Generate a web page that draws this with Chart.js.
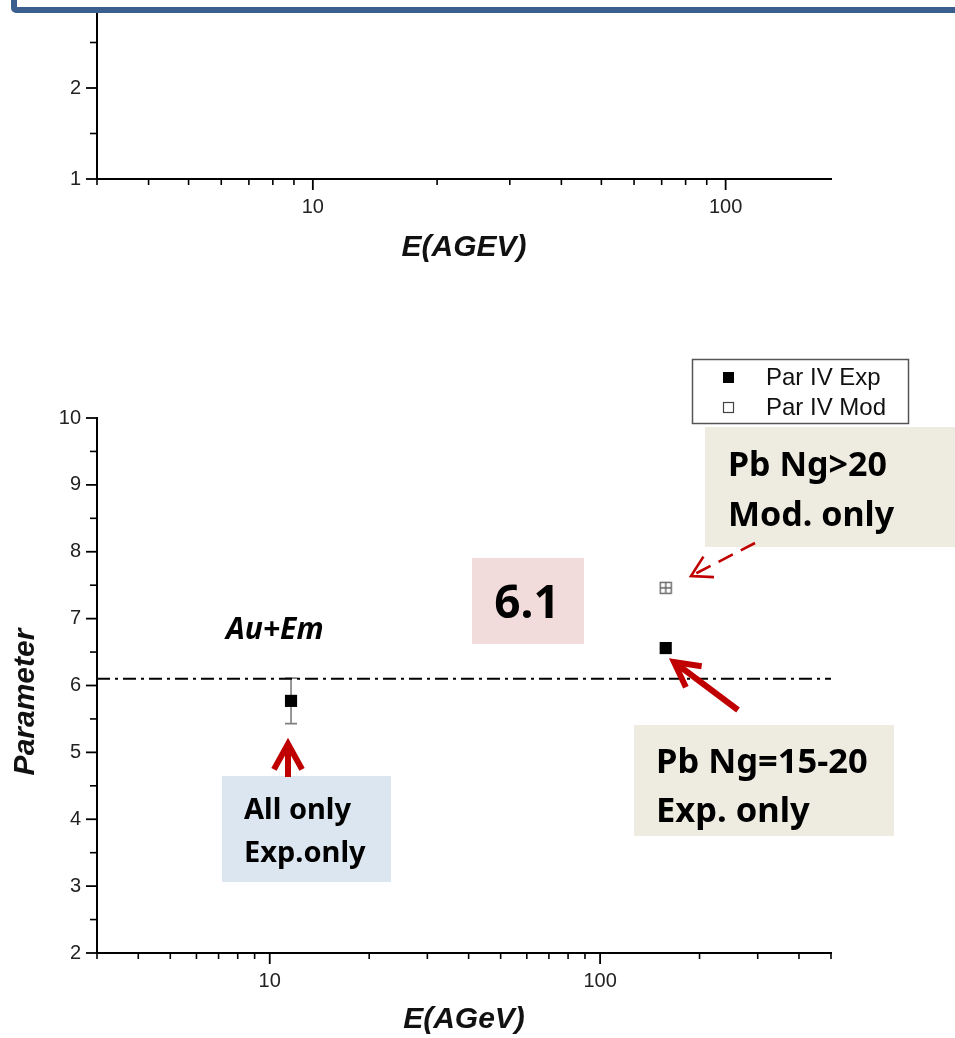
<!DOCTYPE html>
<html>
<head>
<meta charset="utf-8">
<script src="https://cdn.jsdelivr.net/npm/chart.js@4/dist/chart.umd.min.js"></script>
<style>
  html, body { margin: 0; padding: 0; width: 955px; height: 1038px; overflow: hidden; background: #fff; }
  #frame { position: absolute; left: 11px; top: -60px; width: 1100px; height: 73px; box-sizing: border-box;
           border: 6px solid #3a5f8e; border-radius: 5px; background: #fff; z-index: 5; }
  #topWrap { position: absolute; left: 0; top: -100px; width: 955px; height: 376px; }
  #mainWrap { position: absolute; left: 0; top: 280px; width: 955px; height: 758px; }
  canvas { display: block; }
</style>
</head>
<body>
<div id="topWrap"><canvas id="topChart" width="955" height="376"></canvas></div>
<div id="mainWrap"><canvas id="mainChart" width="955" height="758"></canvas></div>
<div id="frame"></div>
<script>
// ---- data ----
const energyExp = [11.6, 158];          // E (A GeV)
const parExp = [5.77, 6.56];            // Par IV, experiment
const parExpErr = [0.34, null];         // error on Par IV Exp
const energyMod = [158];
const parMod = [7.46];                  // Par IV, model
const refLevel = 6.1;                   // dash-dot reference level
const refLevelSpan = [3, 500];

// ---- tick values ----
const xMajorTicks = [10, 100];
const xMinorTicksMain = [3, 4, 5, 6, 7, 8, 9, 20, 30, 40, 50, 60, 70, 80, 90, 200, 300, 400, 500];
const xMinorTicksTop = [3, 4, 5, 6, 7, 8, 9, 20, 30, 40, 50, 60, 70, 80, 90];
const yMajorTicksMain = [2, 3, 4, 5, 6, 7, 8, 9, 10];
const yMinorTicksMain = [2.5, 3.5, 4.5, 5.5, 6.5, 7.5, 8.5, 9.5];
const yMajorTicksTop = [1, 2, 3];
const yMinorTicksTop = [1.5, 2.5];

const AXIS_FONT = 'Liberation Sans';
const NOTE_FONT = 'Noto Sans';
const RED = '#c00000';
const MAIN_TOP = 280;   // page offset of the main canvas

// open square with a cross, used for the model marker
const modMarker = document.createElement('canvas');
modMarker.width = 14; modMarker.height = 14;
(() => {
  const m = modMarker.getContext('2d');
  m.fillStyle = '#fff';
  m.fillRect(1, 1, 12, 12);
  m.strokeStyle = '#666';
  m.lineWidth = 1.4;
  m.strokeRect(1.5, 1.5, 11, 11);
  m.beginPath();
  m.moveTo(1.5, 7); m.lineTo(12.5, 7);
  m.moveTo(7, 1.5); m.lineTo(7, 12.5);
  m.stroke();
})();

// Origin-style outward tick marks (major + minor)
const tickMarks = {
  id: 'tickMarks',
  afterDraw(chart, args, o) {
    const { ctx, chartArea: a, scales: { x, y } } = chart;
    ctx.save();
    ctx.strokeStyle = '#000';
    const xt = (vals, len, w) => vals.forEach(v => {
      const p = x.getPixelForValue(v);
      ctx.lineWidth = w;
      ctx.beginPath(); ctx.moveTo(p, a.bottom); ctx.lineTo(p, a.bottom + len); ctx.stroke();
    });
    const yt = (vals, len, w) => vals.forEach(v => {
      const p = y.getPixelForValue(v);
      ctx.lineWidth = w;
      ctx.beginPath(); ctx.moveTo(a.left, p); ctx.lineTo(a.left - len, p); ctx.stroke();
    });
    xt(o.xMinor, 6, 1.6);
    xt(o.xMajor, 11, 1.8);
    yt(o.yMinor, 7, 1.6);
    yt(o.yMajor, 11, 1.8);
    ctx.restore();
  }
};

// vertical error bars for the experimental points
const errorBars = {
  id: 'errorBars',
  beforeDatasetsDraw(chart) {
    const { ctx, scales: { x, y } } = chart;
    ctx.save();
    ctx.strokeStyle = '#7f7f7f';
    ctx.lineWidth = 1.6;
    energyExp.forEach((e, i) => {
      const err = parExpErr[i];
      if (err == null) return;
      const px = x.getPixelForValue(e);
      const top = y.getPixelForValue(parExp[i] + err);
      const bot = y.getPixelForValue(parExp[i] - err);
      ctx.beginPath();
      ctx.moveTo(px, top); ctx.lineTo(px, bot);
      ctx.moveTo(px - 6, top); ctx.lineTo(px + 6, top);
      ctx.moveTo(px - 6, bot); ctx.lineTo(px + 6, bot);
      ctx.stroke();
    });
    ctx.restore();
  }
};

function arrow(ctx, x1, y1, x2, y2, opt) {
  ctx.save();
  ctx.strokeStyle = opt.color;
  ctx.lineWidth = opt.width;
  ctx.lineCap = 'butt';
  ctx.lineJoin = 'miter';
  ctx.setLineDash(opt.dash || []);
  ctx.beginPath(); ctx.moveTo(x1, y1); ctx.lineTo(x2, y2); ctx.stroke();
  ctx.setLineDash([]);
  const back = Math.atan2(y1 - y2, x1 - x2);
  const s = opt.spread * Math.PI / 180;
  ctx.beginPath();
  ctx.moveTo(x2 + opt.head * Math.cos(back - s), y2 + opt.head * Math.sin(back - s));
  ctx.lineTo(x2, y2);
  ctx.lineTo(x2 + opt.head * Math.cos(back + s), y2 + opt.head * Math.sin(back + s));
  ctx.stroke();
  ctx.restore();
}

// legend box, y-axis title, notes and arrows of the main panel
const mainDecor = {
  id: 'mainDecor',
  afterDraw(chart) {
    const ctx = chart.ctx;
    const Y = v => v - MAIN_TOP;
    ctx.save();

    // y-axis title
    ctx.save();
    ctx.translate(25.5, Y(702));
    ctx.rotate(-Math.PI / 2);
    ctx.font = `italic bold 30px "${AXIS_FONT}"`;
    ctx.fillStyle = '#111';
    ctx.textAlign = 'center';
    ctx.textBaseline = 'middle';
    ctx.fillText('Parameter', 0, 0);
    ctx.restore();

    // legend
    ctx.strokeStyle = '#555';
    ctx.lineWidth = 1.5;
    ctx.strokeRect(692.5, Y(359.5), 216, 64);
    ctx.fillStyle = '#000';
    ctx.fillRect(723, Y(372), 11, 11);
    ctx.fillStyle = '#fff';
    ctx.strokeStyle = '#444';
    ctx.lineWidth = 1.2;
    ctx.fillRect(723, Y(402), 11, 11);
    ctx.strokeRect(723.5, Y(402.5), 10, 10);
    ctx.fillStyle = '#111';
    ctx.font = `24px "${AXIS_FONT}"`;
    ctx.textAlign = 'left';
    ctx.textBaseline = 'alphabetic';
    ctx.fillText('Par IV Exp', 766, Y(385));
    ctx.fillText('Par IV Mod', 766, Y(415));

    // note boxes
    ctx.fillStyle = '#eeece1';
    ctx.fillRect(705, Y(427), 260, 120);
    ctx.fillRect(634, Y(725), 260, 111);
    ctx.fillStyle = '#f2dcdb';
    ctx.fillRect(472, Y(558), 112, 86);
    ctx.fillStyle = '#dce6f1';
    ctx.fillRect(222, Y(776), 169, 106);

    ctx.fillStyle = '#000';
    ctx.font = `bold 34px "${NOTE_FONT}"`;
    ctx.fillText('Pb Ng>20', 728, Y(476));
    ctx.fillText('Mod. only', 728, Y(526));
    ctx.font = `bold 34.5px "${NOTE_FONT}"`;
    ctx.fillText('Pb Ng=15-20', 656, Y(773));
    ctx.fillText('Exp. only', 656, Y(822));
    ctx.font = `bold 29px "${NOTE_FONT}"`;
    ctx.fillText('All only', 244, Y(819));
    ctx.fillText('Exp.only', 244, Y(862));
    ctx.font = `italic bold 30px "${NOTE_FONT}"`;
    ctx.fillText('Au+Em', 226, Y(639));
    ctx.font = `bold 46px "${NOTE_FONT}"`;
    ctx.textAlign = 'center';
    ctx.fillText('6.1', 527, Y(618));

    // arrows
    arrow(ctx, 288, Y(777), 288, Y(744), { color: RED, width: 6, head: 29, spread: 29 });
    arrow(ctx, 738, Y(710), 674, Y(662), { color: RED, width: 6, head: 28, spread: 28 });
    arrow(ctx, 755, Y(543), 691, Y(576), { color: RED, width: 2.6, head: 23, spread: 30, dash: [16, 9] });
    ctx.restore();
  }
};

const tickFont = { family: AXIS_FONT, size: 20 };
const titleFont = { family: AXIS_FONT, size: 30, weight: 'bold', style: 'italic', lineHeight: 1.2 };

function axisX(min, max, title, titlePad, labelPad, height) {
  return {
    type: 'logarithmic', position: 'bottom', min, max,
    grid: { display: false, drawTicks: false },
    border: { display: true, color: '#000', width: 2 },
    afterBuildTicks: s => { s.ticks = xMajorTicks.map(v => ({ value: v })); },
    afterFit: s => { s.height = height; },
    ticks: { font: tickFont, color: '#222', padding: labelPad, autoSkip: false, maxRotation: 0,
             callback: v => String(v) },
    title: { display: true, text: title, font: titleFont, color: '#111', padding: { top: 0, bottom: titlePad } }
  };
}
function axisY(min, max, majors) {
  return {
    type: 'linear', position: 'left', min, max,
    grid: { display: false, drawTicks: false },
    border: { display: true, color: '#000', width: 2 },
    afterBuildTicks: s => { s.ticks = majors.map(v => ({ value: v })); },
    afterFit: s => { s.width = 97; },
    ticks: { font: tickFont, color: '#222', padding: 16, callback: v => String(v) }
  };
}

const common = {
  responsive: false,
  animation: false,
  events: [],
  plugins: { legend: { display: false }, tooltip: { enabled: false } }
};

// upper panel (only its lower part is in view)
new Chart(document.getElementById('topChart'), {
  type: 'scatter',
  data: { datasets: [] },
  options: Object.assign({}, common, {
    layout: { padding: { top: 97, right: 124, left: 0, bottom: 0 } },
    scales: {
      x: axisX(3, 180, 'E(AGEV)', 10, 16, 97),
      y: axisY(1, 3, yMajorTicksTop)
    },
    plugins: Object.assign({}, common.plugins, {
      tickMarks: { xMajor: xMajorTicks, xMinor: xMinorTicksTop, yMajor: yMajorTicksTop, yMinor: yMinorTicksTop }
    })
  }),
  plugins: [tickMarks]
});

// main panel
new Chart(document.getElementById('mainChart'), {
  type: 'scatter',
  data: {
    datasets: [
      {
        label: 'Par IV Exp',
        data: energyExp.map((e, i) => ({ x: e, y: parExp[i] })),
        pointStyle: 'rect', pointRadius: 8.6, backgroundColor: '#000', borderColor: '#000', borderWidth: 0
      },
      {
        label: 'Par IV Mod',
        data: energyMod.map((e, i) => ({ x: e, y: parMod[i] })),
        pointStyle: modMarker, pointRadius: 7
      },
      {
        type: 'line',
        label: 'level',
        data: refLevelSpan.map(e => ({ x: e, y: refLevel })),
        borderColor: '#000', borderWidth: 2, borderDash: [13, 5, 3, 5],
        pointRadius: 0, fill: false
      }
    ]
  },
  options: Object.assign({}, common, {
    layout: { padding: { top: 138, right: 124, left: 0, bottom: 0 } },
    scales: {
      x: axisX(3, 500, 'E(AGeV)', 0, 16, 85),
      y: axisY(2, 10, yMajorTicksMain)
    },
    plugins: Object.assign({}, common.plugins, {
      tickMarks: { xMajor: xMajorTicks, xMinor: xMinorTicksMain, yMajor: yMajorTicksMain, yMinor: yMinorTicksMain }
    })
  }),
  plugins: [tickMarks, errorBars, mainDecor]
});
</script>
</body>
</html>
